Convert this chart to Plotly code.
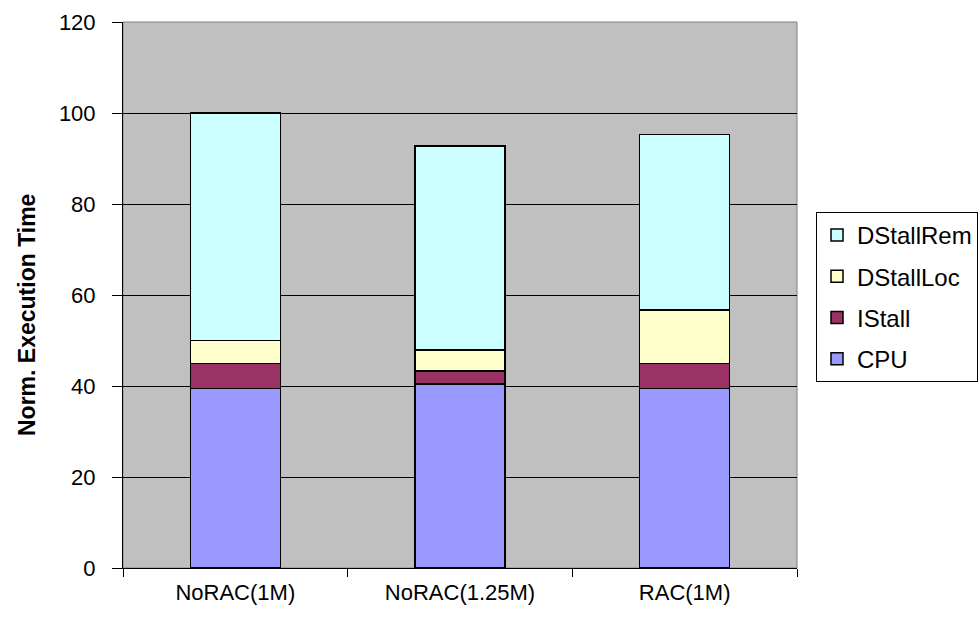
import plotly.graph_objects as go

# Configurations on the x axis
configs = ["NoRAC(1M)", "NoRAC(1.25M)", "RAC(1M)"]

# Execution-time components (normalised), stacked bottom to top
cpu = [39.5, 40.4, 39.5]
istall = [5.5, 2.9, 5.5]
dstall_loc = [5.0, 4.6, 11.7]
dstall_rem = [50.0, 44.8, 38.6]

y_ticks = [0, 20, 40, 60, 80, 100, 120]

series = [
    ("CPU", cpu, "#9999FF"),
    ("IStall", istall, "#993366"),
    ("DStallLoc", dstall_loc, "#FFFFCC"),
    ("DStallRem", dstall_rem, "#CCFFFF"),
]

FONT = "Liberation Sans, Arial, sans-serif"
FS = 22

fig = go.Figure()
n = len(series)
for i, (name, vals, color) in enumerate(series):
    fig.add_trace(go.Bar(
        x=configs, y=vals, name=name, legendgroup=name,
        legendrank=1000 + (n - i),  # top of the stack listed first
        marker=dict(color=color, line=dict(color="black", width=1.5)),
    ))

W, H = 980, 619
L, R, T, B = 123, 183, 22, 51

fig.update_layout(
    width=W, height=H,
    margin=dict(l=L, r=R, t=T, b=B, pad=0, autoexpand=False),
    barmode="stack",
    bargap=0.6,
    paper_bgcolor="white",
    plot_bgcolor="#C0C0C0",
    font=dict(family=FONT, size=FS, color="black"),
    showlegend=True,
    legend=dict(
        x=(816 - L) / (W - L - R), xanchor="left",
        y=(H - B - 212) / (H - T - B), yanchor="top",
        traceorder="grouped",
        tracegroupgap=7,
        bgcolor="white", bordercolor="black", borderwidth=1,
        font=dict(family=FONT, size=24, color="black"),
        itemwidth=30,
    ),
    xaxis=dict(
        type="category",
        showline=True, linecolor="black", linewidth=1,
        ticks="outside", tickson="boundaries", ticklen=8,
        tickcolor="black", showgrid=False,
        tickfont=dict(size=FS),
        ticklabelstandoff=5,
    ),
    yaxis=dict(
        range=[0, 120], tickvals=y_ticks,
        showline=True, linecolor="black", linewidth=1,
        ticks="outside", ticklen=10, tickcolor="black",
        showgrid=True, gridcolor="black", gridwidth=1,
        zeroline=False,
        tickfont=dict(size=FS),
        ticklabelstandoff=12,
    ),
    shapes=[dict(
        type="rect", xref="paper", yref="paper", x0=0, x1=1, y0=0, y1=1,
        line=dict(color="#808080", width=1), layer="below",
    )],
    annotations=[dict(
        text="<b>Norm. Execution Time</b>", textangle=-90,
        xref="paper", yref="paper", x=(27 - L) / (W - L - R), y=(H - B - 315) / (H - T - B),
        xanchor="center", yanchor="middle", showarrow=False,
        font=dict(family=FONT, size=23, color="black"),
    )],
)

fig.write_html("out.html")
